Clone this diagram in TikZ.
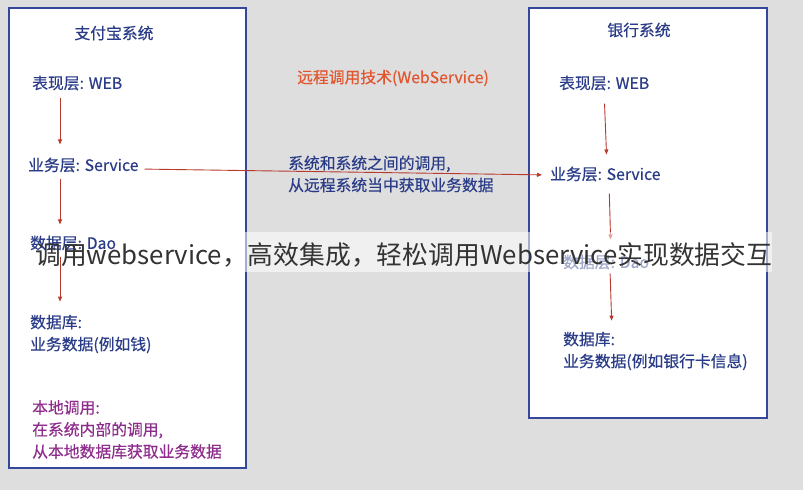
\documentclass[tikz,border=0pt]{standalone}
\usepackage{fontspec}
\newfontfamily\cjk{Noto Sans CJK SC}
\newfontfamily\cjkm{Noto Sans CJK SC}[FakeBold=0.4]
\usetikzlibrary{arrows.meta}
\definecolor{sysblue}{HTML}{34479A}
\definecolor{txtblue}{HTML}{2A3C88}
\definecolor{arrred}{HTML}{B8392E}
\definecolor{remred}{HTML}{E2552F}
\definecolor{locpurple}{HTML}{8E2D8C}
\definecolor{bggray}{HTML}{DEDEDE}

\begin{document}
\begin{tikzpicture}[x=1pt,y=-1pt,
    my box/.style={draw=sysblue, line width=1.5pt, fill=white, inner sep=0pt},
    my text/.style={font=\cjkm\fontsize{15.8}{22}\selectfont, text=txtblue, inner sep=0pt, anchor=west, align=left},
    my arrow/.style={draw=arrred, line width=0.9pt, shorten <=6pt, shorten >=12pt, -{Triangle[length=5pt,width=4pt]}}]

\fill[bggray] (0,0) rectangle (803,490);
\useasboundingbox (0,0) rectangle (803,490);

% the two systems
\node[my box, minimum width=237pt, minimum height=460pt] (zfb) at (127.5,238) {};
\node[my box, minimum width=238pt, minimum height=410pt] (yh) at (648,213) {};

\node[my text, anchor=center] (zfbtitle) at (114,33) {支付宝系统};
\node[my text] (zweb) at (32,83) {表现层: WEB};
\node[my text] (zsvc) at (28,165) {业务层: Service};
\node[my text] (zdao) at (30,243) {数据层: Dao};
\node[my text] (zdb) at (30,334) {数据库:\\业务数据(例如钱)};
\node[my text, text=locpurple] (zlocal) at (32,429.5) {本地调用:\\在系统内部的调用,\\从本地数据库获取业务数据};

\node[my text, anchor=center] (yhtitle) at (639,30) {银行系统};
\node[my text] (yweb) at (559,83) {表现层: WEB};
\node[my text] (ysvc) at (550,174) {业务层: Service};
\node[my text] (ydao) at (563,262) {数据层: Dao};
\node[my text] (ydb) at (563,351) {数据库:\\业务数据(例如银行卡信息)};

\node[my text, text=remred] (remote) at (297,78) {远程调用技术(WebService)};
\node[my text] (note) at (288,174) {系统和系统之间的调用,\\从远程系统当中获取业务数据};

\draw[my arrow, shorten <=7pt, shorten >=13pt] ([xshift=28pt]zweb.south west) -- ([xshift=32pt]zsvc.north west);
\draw[my arrow, shorten >=11pt] ([xshift=32pt]zsvc.south west) -- ([xshift=30pt]zdao.north west);
\draw[my arrow, shorten >=13pt] ([xshift=30pt]zdao.south west) -- ([xshift=30pt]zdb.north west);

\draw[my arrow, shorten <=13pt] ([xshift=45pt]yweb.south west) -- ([xshift=57pt]ysvc.north west);
\draw[my arrow, shorten <=12pt, shorten >=15pt] ([xshift=59pt]ysvc.south west) -- ([xshift=48pt]ydao.north west);
\draw[my arrow, shorten <=4pt, shorten >=11pt] ([xshift=47pt]ydao.south west) -- ([xshift=49pt]ydb.north west);

\draw[my arrow, shorten <=6pt, shorten >=8pt] ([yshift=-4pt]zsvc.east) -- ([yshift=-1pt]ysvc.west);

% overlay band
\fill[white, opacity=0.55] (150,232) rectangle (772,272);
\node[inner sep=0pt, anchor=west, text=black!80, font=\cjk\fontsize{25.8}{30}\selectfont] (wm) at (35,255) {调用webservice，高效集成，轻松调用Webservice实现数据交互};
\end{tikzpicture}
\end{document}
